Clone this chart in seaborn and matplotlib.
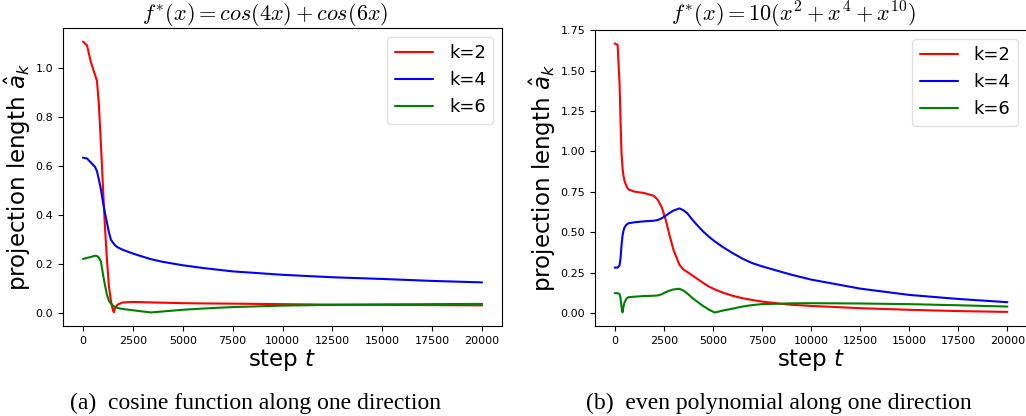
import numpy as np
import pandas as pd
import seaborn as sns
import matplotlib
matplotlib.use("Agg")
import matplotlib.pyplot as plt

# === DANE ===
series_labels = ["k=2", "k=4", "k=6"]
line_colors = ["red", "blue", "green"]

# (a) cos(4x) + cos(6x)
steps_cos = [0, 200, 400, 600, 700, 800, 900, 1000, 1100, 1200, 1300, 1400, 1500,
             1550, 1600, 1750, 2000, 2500, 3000, 3400, 4000, 5000, 6000, 7500,
             10000, 12500, 15000, 17500, 20000]
cos_k2 = [1.11, 1.095, 1.025, 0.975, 0.95, 0.85, 0.69, 0.52, 0.355, 0.22, 0.11, 0.05, 0.012,
          0.003, 0.02, 0.035, 0.043, 0.045, 0.044, 0.043, 0.042, 0.040, 0.039, 0.038,
          0.036, 0.034, 0.033, 0.032, 0.031]
cos_k4 = [0.635, 0.632, 0.615, 0.598, 0.58, 0.545, 0.505, 0.455, 0.41, 0.37, 0.33, 0.30, 0.288,
          0.283, 0.277, 0.268, 0.258, 0.243, 0.230, 0.220, 0.209, 0.195, 0.184, 0.170,
          0.156, 0.146, 0.139, 0.131, 0.125]
cos_k6 = [0.221, 0.225, 0.229, 0.234, 0.233, 0.226, 0.21, 0.16, 0.115, 0.075, 0.05, 0.038, 0.030,
          0.027, 0.025, 0.02, 0.016, 0.011, 0.006, 0.002, 0.006, 0.013, 0.018, 0.024,
          0.030, 0.033, 0.035, 0.036, 0.037]

# (b) 10(x^2 + x^4 + x^10)
steps_poly = [0, 150, 250, 300, 350, 400, 450, 500, 600, 700, 1000, 1500, 2000, 2200, 2400,
              2600, 2800, 3000, 3300, 3500, 3700, 4000, 4200, 4500, 4800, 5100, 5500, 6000,
              6500, 7000, 7500, 8500, 9000, 10000, 12500, 15000, 17500, 20000]
poly_k2 = [1.668, 1.66, 1.42, 1.19, 0.99, 0.90, 0.85, 0.82, 0.785, 0.766, 0.752, 0.743, 0.726, 0.70, 0.655,
           0.578, 0.48, 0.39, 0.30, 0.27, 0.255, 0.23, 0.213, 0.188, 0.165, 0.147, 0.128, 0.108,
           0.093, 0.082, 0.072, 0.058, 0.052, 0.045, 0.031, 0.021, 0.013, 0.008]
poly_k4 = [0.282, 0.282, 0.295, 0.34, 0.42, 0.478, 0.51, 0.53, 0.547, 0.556, 0.562, 0.568, 0.572, 0.576, 0.587,
           0.603, 0.62, 0.635, 0.648, 0.637, 0.618, 0.572, 0.545, 0.506, 0.473, 0.444, 0.410, 0.372,
           0.338, 0.310, 0.290, 0.255, 0.238, 0.208, 0.152, 0.113, 0.088, 0.068]
poly_k6 = [0.124, 0.124, 0.118, 0.095, 0.04, 0.005, 0.04, 0.065, 0.09, 0.099, 0.102, 0.106, 0.108, 0.11, 0.117,
           0.13, 0.14, 0.147, 0.151, 0.14, 0.122, 0.09, 0.072, 0.045, 0.022, 0.004, 0.016, 0.028,
           0.041, 0.05, 0.056, 0.059, 0.061, 0.062, 0.06, 0.056, 0.049, 0.041]

titles = [r"$f^{*}(x) = cos(4x) + cos(6x)$", r"$f^{*}(x) = 10(x^2 + x^4 + x^{10})$"]
captions = ["(a)  cosine function along one direction", "(b)  even polynomial along one direction"]


def to_long(steps, k2, k4, k6):
    frames = []
    for lab, vals in zip(series_labels, [k2, k4, k6]):
        frames.append(pd.DataFrame({"step": steps, "value": vals, "k": lab}))
    return pd.concat(frames, ignore_index=True)


def draw_panel(ax, df, title):
    sns.lineplot(data=df, x="step", y="value", hue="k", palette=dict(zip(series_labels, line_colors)),
                 linewidth=1.5, ax=ax, sort=False, estimator=None)
    ax.set_title(title, fontsize=16, math_fontfamily="cm", x=0.46, pad=2)
    ax.set_xlabel(r"step $t$", fontsize=16.5, labelpad=1)
    ax.set_ylabel(r"projection length $\hat{a}_k$", fontsize=16.5, labelpad=2)
    ax.set_xticks(np.arange(0, 20001, 2500))
    ax.tick_params(labelsize=8)
    leg = ax.legend(loc="upper right", fontsize=13, handlelength=2.1, handletextpad=0.9)
    leg.get_frame().set_edgecolor("0.85")


# === RYSOWANIE ===
sns.set_style("ticks")
plt.rcParams["font.family"] = ["DejaVu Sans"]
plt.rcParams["axes.edgecolor"] = "black"
plt.rcParams["xtick.color"] = "black"
plt.rcParams["ytick.color"] = "black"
plt.rcParams["axes.labelcolor"] = "black"
plt.rcParams["text.color"] = "black"

fig = plt.figure(figsize=(10.26, 4.16), dpi=100)
ax1 = fig.add_axes([63 / 1026, 90 / 416, 439 / 1026, 298 / 416])
ax2 = fig.add_axes([595 / 1026, 90 / 416, 432 / 1026, 296 / 416])

draw_panel(ax1, to_long(steps_cos, cos_k2, cos_k4, cos_k6), titles[0])
draw_panel(ax2, to_long(steps_poly, poly_k2, poly_k4, poly_k6), titles[1])

fig.text(255 / 1026, 1 - 403 / 416, captions[0], family="Liberation Serif", fontsize=17,
         ha="center", va="center")
fig.text(779 / 1026, 1 - 403 / 416, captions[1], family="Liberation Serif", fontsize=17,
         ha="center", va="center")

fig.savefig("out.png", dpi=100)
plt.close(fig)
